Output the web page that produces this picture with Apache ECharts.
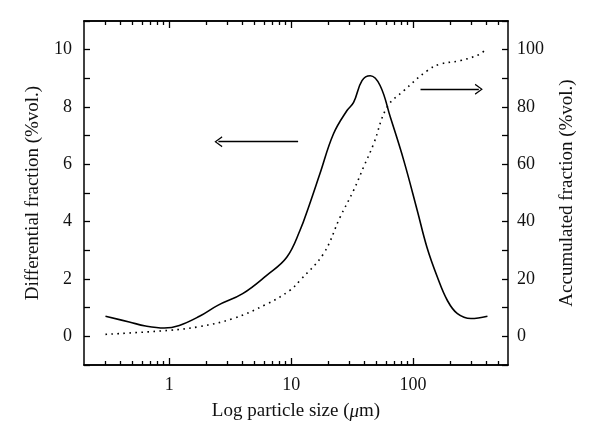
<!DOCTYPE html>
<html>
<head>
<meta charset="utf-8">
<script src="https://cdn.jsdelivr.net/npm/echarts@6/dist/echarts.min.js"></script>
<style>html,body{margin:0;padding:0;background:#fff}#c{width:600px;height:448px}</style>
</head>
<body>
<div id="c"></div>
<script>
// Particle size (µm) and differential fraction (%vol.)
const diffSize = [0.3, 0.47, 0.64, 0.91, 1.21, 1.77, 2.5, 4.0, 6.3, 9.2, 11.8, 14, 17.2, 22.2, 28.6, 32.5, 38.1, 44.5, 53.6, 65.1, 83.9, 108, 130, 158, 191, 231, 298, 407];
const diffValue = [0.70, 0.50, 0.36, 0.29, 0.38, 0.70, 1.08, 1.49, 2.13, 2.76, 3.69, 4.55, 5.67, 7.06, 7.87, 8.16, 8.92, 9.09, 8.75, 7.64, 6.13, 4.4, 3.1, 2.07, 1.25, 0.79, 0.62, 0.70];
// Particle size (µm) and accumulated fraction (%vol.)
const accSize = [0.3, 1.0, 1.77, 3.33, 6.27, 9.75, 11.8, 18.4, 25.2, 32.5, 39.2, 47.4, 61.1, 83.9, 131, 168, 245, 359, 380];
const accValue = [0.7, 2.1, 3.4, 6.2, 11.2, 16, 19.5, 28.8, 41.6, 50.9, 59, 67.1, 79.9, 85.7, 92.7, 95, 96.2, 98.5, 99.6];
// tick values
const xMajorTicks = [1, 10, 100];
const xMinorTicks = [0.3, 0.4, 0.5, 0.6, 0.7, 0.8, 0.9, 2, 3, 4, 5, 6, 7, 8, 9, 20, 30, 40, 50, 60, 70, 80, 90, 200, 300, 400, 500];
const leftLabels = [0, 2, 4, 6, 8, 10];
const rightLabels = [0, 20, 40, 60, 80, 100];
// annotation arrows: [fromSize, toSize, level on left axis]
const leftArrow = [11.4, 2.53, 6.79];
const rightArrow = [115, 346, 8.62];

const FONT = 'Liberation Serif';
const TICK_FS = 18;
const NAME_FS = 19;
const chevron = 'path://M0,10 L5,0 L10,10 L8.9,10.7 L5,2.6 L1.1,10.7 Z';

const chart = echarts.init(document.getElementById('c'), null, {renderer: 'canvas'});
const baseX = {
  type: 'log', logBase: 10, min: 0.2, max: 600,
  splitLine: {show: false}, minorTick: {show: false}, minorSplitLine: {show: false}
};
function xAx(pos, major, showLabel, withName) {
  return Object.assign({}, baseX, {
    position: pos,
    axisLine: {show: true, onZero: false, lineStyle: {color: '#000', width: 1.5}},
    axisTick: {show: true, inside: true, length: major ? 7 : 4, lineStyle: {color: '#000', width: 1.3},
      customValues: major ? xMajorTicks : xMinorTicks},
    axisLabel: {show: showLabel, customValues: xMajorTicks, margin: 11,
      fontFamily: FONT, fontSize: TICK_FS, color: '#111', formatter: v => String(v)},
    name: withName ? 'Log particle size ({i|μ}m)' : '',
    nameLocation: 'middle', nameGap: 37,
    nameTextStyle: {fontFamily: FONT, fontSize: NAME_FS, color: '#111',
      rich: {i: {fontFamily: FONT, fontSize: NAME_FS, fontStyle: 'italic', color: '#111'}}}
  });
}
const option = {
  animation: false,
  backgroundColor: '#fff',
  grid: {left: 84, right: 92, top: 21, bottom: 83},
  xAxis: [xAx('bottom', true, true, true), xAx('bottom', false, false, false), xAx('top', true, false, false), xAx('top', false, false, false)],
  yAxis: [{
    type: 'value', min: -1, max: 11, interval: 1, position: 'left',
    axisLine: {show: true, lineStyle: {color: '#000', width: 1.5}},
    axisTick: {show: true, inside: true, length: 6, lineStyle: {color: '#000', width: 1.3}},
    axisLabel: {customValues: leftLabels, margin: 12, fontFamily: FONT, fontSize: TICK_FS, color: '#111'},
    splitLine: {show: false},
    name: 'Differential fraction (%vol.)', nameLocation: 'middle', nameGap: 41,
    nameTextStyle: {fontFamily: FONT, fontSize: NAME_FS, color: '#111'}
  }, {
    type: 'value', min: -10, max: 110, interval: 10, position: 'right',
    axisLine: {show: true, lineStyle: {color: '#000', width: 1.5}},
    axisTick: {show: true, inside: true, length: 6, lineStyle: {color: '#000', width: 1.3}},
    axisLabel: {customValues: rightLabels, margin: 9, fontFamily: FONT, fontSize: TICK_FS, color: '#111'},
    splitLine: {show: false},
    name: 'Accumulated fraction (%vol.)', nameLocation: 'middle', nameGap: 50, nameRotate: 90,
    nameTextStyle: {fontFamily: FONT, fontSize: NAME_FS, color: '#111'}
  }],
  series: [{
    type: 'line', xAxisIndex: 0, yAxisIndex: 0,
    data: diffSize.map((s, i) => [s, diffValue[i]]),
    smooth: 0.4, showSymbol: false, symbol: 'none',
    lineStyle: {color: '#000', width: 1.6},
    markLine: {
      silent: true, symbol: ['none', chevron], symbolSize: [11, 8],
      lineStyle: {color: '#000', width: 1.4, type: 'solid'},
      label: {show: false},
      data: [
        [{coord: [leftArrow[0], leftArrow[2]]}, {coord: [leftArrow[1], leftArrow[2]]}],
        [{coord: [rightArrow[0], rightArrow[2]]}, {coord: [rightArrow[1], rightArrow[2]]}]
      ]
    }
  }, {
    type: 'line', xAxisIndex: 0, yAxisIndex: 1,
    data: accSize.map((s, i) => [s, accValue[i]]),
    smooth: 0.4, showSymbol: false, symbol: 'none',
    lineStyle: {color: '#000', width: 1.6, type: [1.6, 4.4]}
  }]
};
chart.setOption(option);
</script>
</body>
</html>
